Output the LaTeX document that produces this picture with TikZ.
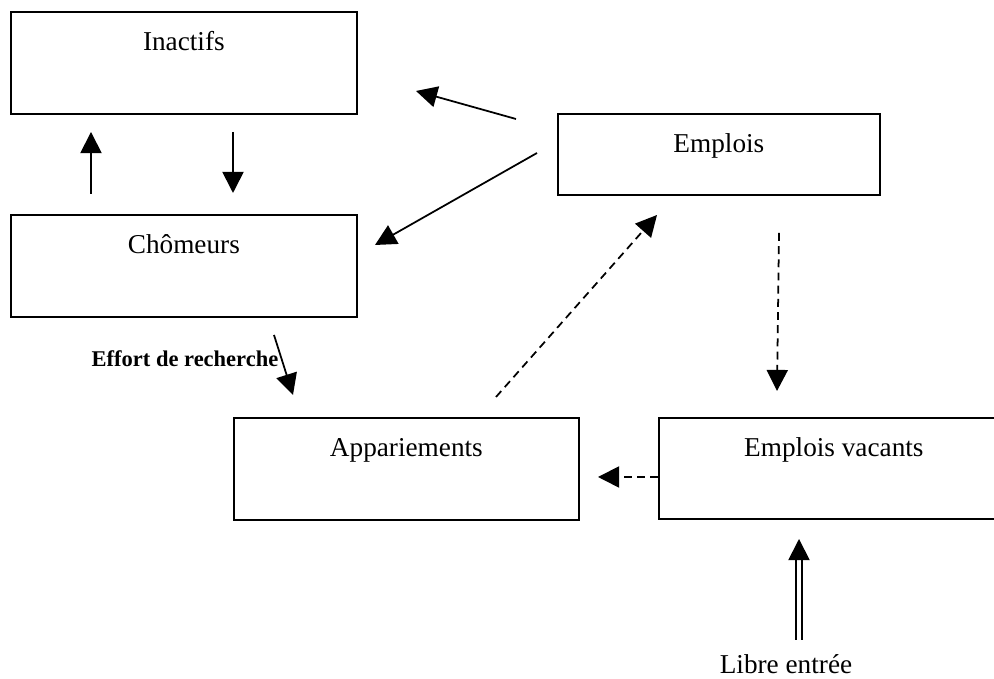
\documentclass[tikz,border=0pt]{standalone}
\usepackage{fontspec}
\setmainfont{Liberation Serif}
\usepackage{tikz}
\usetikzlibrary{arrows.meta}

\tikzset{
    boite/.style={draw, line width=1pt, anchor=north west, inner sep=0pt,
        text height=0.78cm, font=\fontsize{15.5}{18}\selectfont},
    fleche/.style={line width=1pt, -{Triangle[length=12pt, width=12pt]}},
    pointille/.style={fleche, dash pattern=on 4.5pt off 3pt}
}

\begin{document}
\begin{tikzpicture}
    \useasboundingbox (0, 0) rectangle (19.88, 13.58);

    % The boxes
    \node[boite, minimum width=6.92cm, text depth=1.26cm] (inactifs) at (0.2, 13.36) {Inactifs};
    \node[boite, minimum width=6.92cm, text depth=1.26cm] (chomeurs) at (0.2, 9.3) {Chômeurs};
    \node[boite, minimum width=6.44cm, text depth=0.84cm] (emplois) at (11.14, 11.32) {Emplois};
    \node[boite, minimum width=6.9cm, text depth=1.26cm] (appariements) at (4.66, 5.24) {Appariements};
    \node[boite, minimum width=7cm, text depth=1.24cm] (vacants) at (13.16, 5.24) {Emplois vacants};

    % Labels
    \node[font=\fontsize{12.8}{15}\selectfont\bfseries] (effort) at (3.7, 6.4) {Effort de recherche};
    \node[font=\fontsize{15.5}{18}\selectfont] (libre) at (15.72, 0.3) {Libre entrée};

    % Arrow ends
    \coordinate (c1) at (1.82, 9.7);
    \coordinate (i1) at (1.82, 10.94);
    \coordinate (i2) at (4.66, 10.94);
    \coordinate (c2) at (4.66, 9.72);
    \coordinate (e1) at (10.32, 11.2);
    \coordinate (i3) at (8.32, 11.76);
    \coordinate (e2) at (10.74, 10.52);
    \coordinate (c3) at (7.5, 8.68);
    \coordinate (r1) at (5.48, 6.88);
    \coordinate (a1) at (5.86, 5.68);
    \coordinate (a2) at (9.92, 5.64);
    \coordinate (e3) at (13.14, 9.28);
    \coordinate (e4) at (15.58, 8.92);
    \coordinate (v1) at (15.54, 5.76);
    \coordinate (v2) at (13.16, 4.04);
    \coordinate (a3) at (11.96, 4.04);
    \coordinate (l1) at (15.98, 0.78);
    \coordinate (v3) at (15.98, 2.8);

    % Flows between inactifs, chomeurs and emplois
    \draw[fleche] (c1) -- (i1);
    \draw[fleche] (i2) -- (c2);
    \draw[fleche] (e1) -- (i3);
    \draw[fleche] (e2) -- (c3);
    \draw[fleche] (r1) -- (a1);

    % Dashed flows
    \draw[pointille] (a2) -- (e3);
    \draw[pointille] (e4) -- (v1);
    \draw[pointille] (v2) -- (a3);

    % Libre entree
    \draw[line width=1pt, double, double distance=2.5pt, -{Triangle[length=12pt, width=12pt]}] (l1) -- (v3);

\end{tikzpicture}
\end{document}
